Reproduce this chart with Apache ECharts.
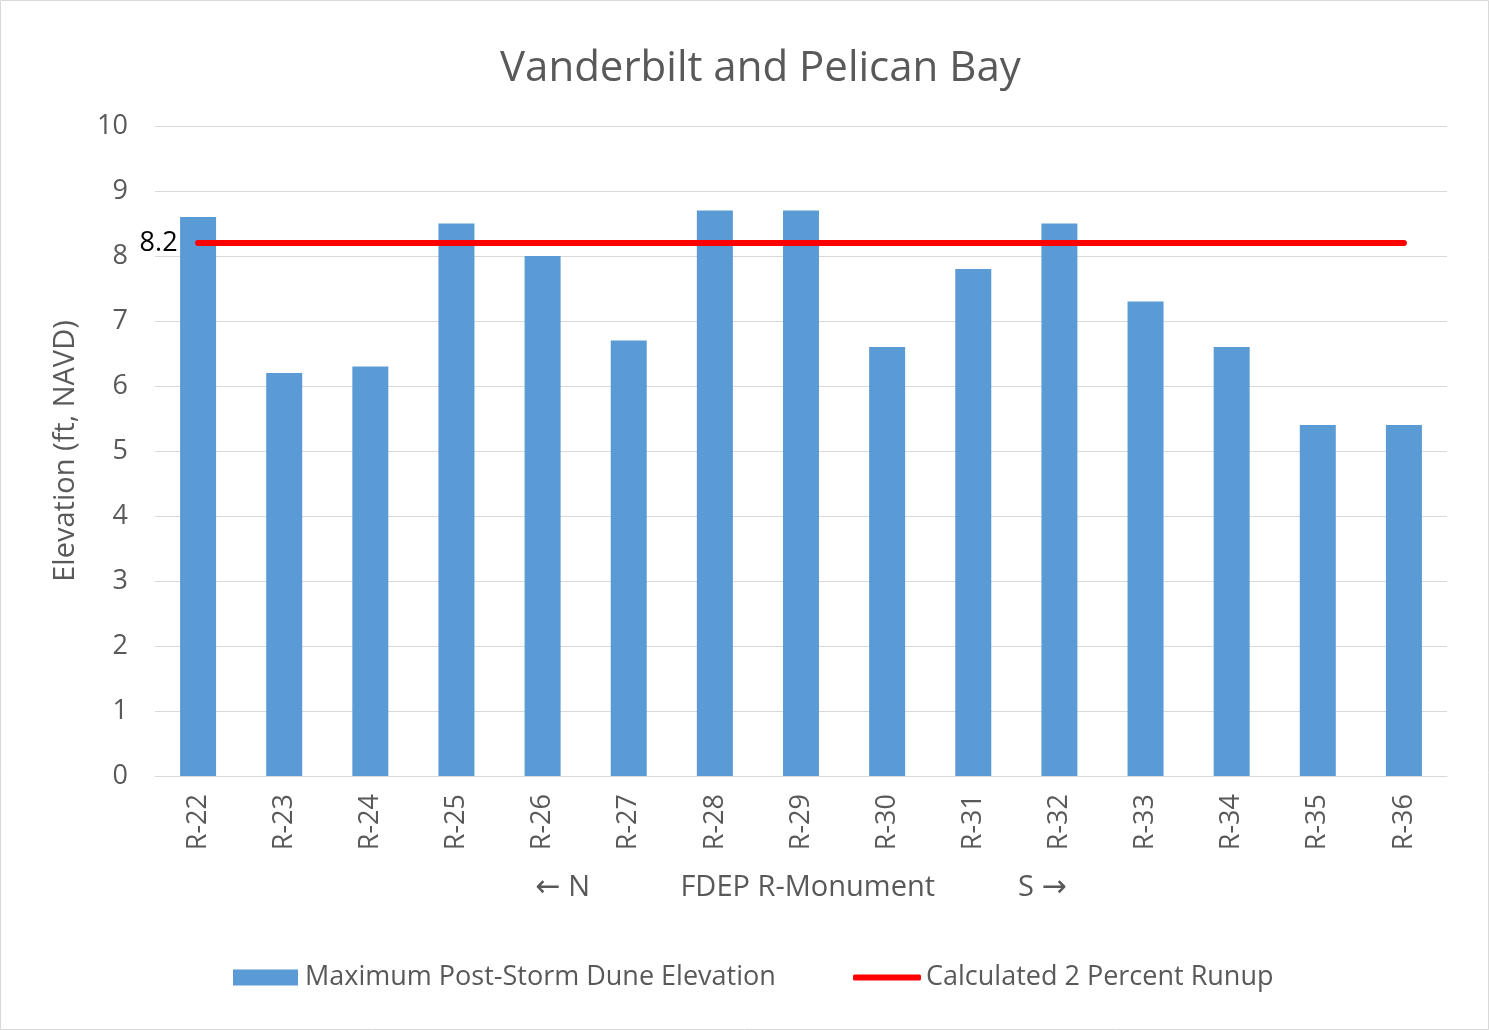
<!DOCTYPE html>
<html>
<head>
<meta charset="utf-8">
<script src="https://cdn.jsdelivr.net/npm/echarts@6/dist/echarts.min.js"></script>
<style>
    html, body { margin: 0; padding: 0; background: #fff; }
    #chart { width: 1489px; height: 1030px; }
</style>
</head>
<body>
<div id="chart"></div>
<script>
// monuments along the beach, north to south
var monuments = ['R-22', 'R-23', 'R-24', 'R-25', 'R-26', 'R-27', 'R-28', 'R-29',
    'R-30', 'R-31', 'R-32', 'R-33', 'R-34', 'R-35', 'R-36'];
var duneElev = [8.6, 6.2, 6.3, 8.5, 8.0, 6.7, 8.7, 8.7, 6.6, 7.8, 8.5, 7.3, 6.6, 5.4, 5.4];
var runup = [8.2, 8.2, 8.2, 8.2, 8.2, 8.2, 8.2, 8.2, 8.2, 8.2, 8.2, 8.2, 8.2, 8.2, 8.2];

var fontName = '"Open Sans", "Noto Sans", sans-serif';
var grey = '#595959';

// only the first point of the runup line gets its value label
var runupData = [];
for (var i = 0; i < runup.length; i++) {
    if (i == 0) {
        runupData.push({value: runup[i], label: {show: true}});
    } else {
        runupData.push(runup[i]);
    }
}

var sp = function (n) { return new Array(n + 1).join(' '); };

var myChart = echarts.init(document.getElementById('chart'));
var option = {
    backgroundColor: '#fff',
    animation: false,
    textStyle: {fontFamily: fontName},
    title: {
        text: 'Vanderbilt and Pelican Bay',
        left: 495,
        top: 43,
        textStyle: {fontSize: 42, fontWeight: 'normal', color: grey, fontFamily: fontName}
    },
    legend: [{
        top: 959,
        left: 228,
        itemWidth: 65,
        itemHeight: 16,
        selectedMode: false,
        textStyle: {fontSize: 27, color: grey, fontFamily: fontName, padding: [0, 0, 0, 2]},
        data: [{name: 'Maximum Post-Storm Dune Elevation', icon: 'rect'}]
    }, {
        top: 959,
        left: 848,
        itemWidth: 68,
        itemHeight: 6,
        selectedMode: false,
        textStyle: {fontSize: 27, color: grey, fontFamily: fontName},
        data: [{name: 'Calculated 2 Percent Runup', icon: 'roundRect'}]
    }],
    grid: {left: 155, right: 42, top: 126, bottom: 254},
    xAxis: {
        type: 'category',
        data: monuments,
        name: '{a|\u2190} N' + sp(12) + 'FDEP R-Monument' + sp(11) + 'S {a|\u2192}',
        nameLocation: 'middle',
        nameGap: 97,
        nameTextStyle: {
            fontSize: 29,
            color: grey,
            rich: {a: {fontFamily: '"DejaVu Sans"', fontSize: 30, color: grey}}
        },
        axisTick: {show: false},
        axisLine: {lineStyle: {color: '#d9d9d9', width: 1}},
        axisLabel: {rotate: 90, fontSize: 27, color: grey, margin: 18}
    },
    yAxis: {
        type: 'value',
        min: 0,
        max: 10,
        interval: 1,
        name: 'Elevation (ft, NAVD)',
        nameLocation: 'middle',
        nameGap: 75,
        nameTextStyle: {fontSize: 29, color: grey},
        axisLine: {show: false},
        axisTick: {show: false},
        axisLabel: {fontSize: 27, color: grey, margin: 27},
        splitLine: {lineStyle: {color: '#d9d9d9', width: 1}}
    },
    graphic: [{
        type: 'rect',
        shape: {x: 0.5, y: 0.5, width: 1488, height: 1029},
        style: {fill: 'none', stroke: '#d9d9d9', lineWidth: 1},
        silent: true
    }],
    series: [
        {
            name: 'Maximum Post-Storm Dune Elevation',
            type: 'bar',
            barWidth: 36,
            itemStyle: {color: '#5b9bd5'},
            data: duneElev
        },
        {
            name: 'Calculated 2 Percent Runup',
            type: 'line',
            symbol: 'circle',
            symbolSize: 1,
            showSymbol: true,
            itemStyle: {color: '#ff0000'},
            lineStyle: {color: '#ff0000', width: 6, cap: 'round'},
            label: {
                show: false,
                position: 'left',
                distance: 20,
                fontSize: 27,
                color: '#000',
                fontFamily: fontName
            },
            data: runupData
        }
    ]
};
myChart.setOption(option);
</script>
</body>
</html>
